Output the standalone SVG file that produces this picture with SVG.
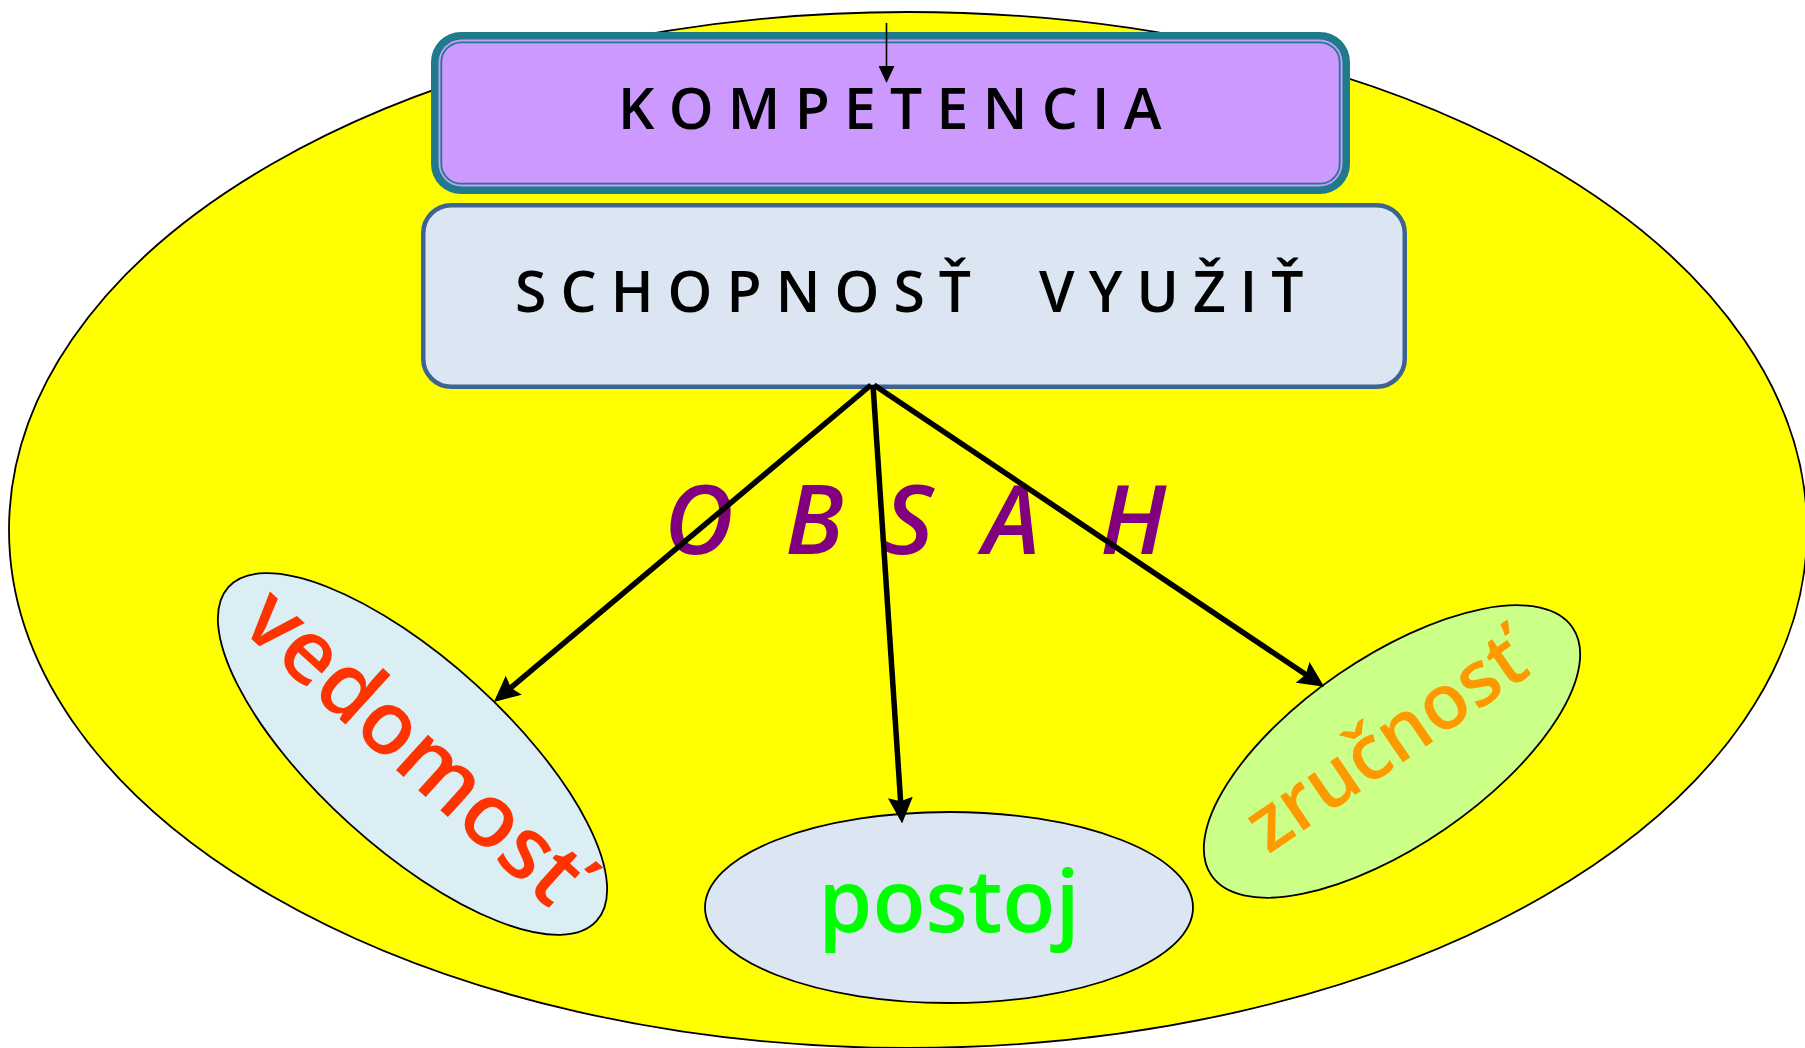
<svg xmlns="http://www.w3.org/2000/svg" width="1805" height="1048" viewBox="0 0 1805 1048">
<defs>
<style>
.box-text{font-family:"Open Sans","Liberation Sans",sans-serif;font-weight:600;font-size:57px;fill:#000}
.conn{stroke:#000;stroke-width:5.5;fill:none}
.lbl{font-family:"Open Sans","Liberation Sans",sans-serif;text-anchor:middle}
.oval{stroke:#000;stroke-width:1.8}
</style>
<marker id="ah" markerUnits="userSpaceOnUse" markerWidth="26" markerHeight="26" viewBox="0 0 24 24" refX="6" refY="12" orient="auto">
<path d="M0,0.5 L24,12 L0,23.5 L3.5,12 Z" fill="#000"/>
</marker>
<marker id="ahs" markerUnits="userSpaceOnUse" markerWidth="17" markerHeight="16" viewBox="0 0 17 16" refX="5" refY="8" orient="auto">
<path d="M0,0 L17,8 L0,16 Z" fill="#000"/>
</marker>
</defs>
<rect width="1805" height="1048" fill="#fff"/>
<g id="background">
<ellipse cx="908" cy="530" rx="899" ry="518" fill="#FFFF00" stroke="#000" stroke-width="1.8"/>
</g>
<g id="kompetencia">
<rect x="431" y="32" width="919" height="162" rx="30" fill="#1F7A8C"/>
<rect x="438.5" y="39.5" width="904" height="147" rx="23" fill="#CC99FF"/>
<rect x="441.3" y="42.3" width="898.4" height="141.4" rx="20" fill="none" stroke="#1F7A8C" stroke-width="1.8"/>
<text class="box-text" x="618" y="128.5" letter-spacing="14.3">KOMPETENCIA</text>
</g>
<g id="schopnost">
<rect x="423.25" y="205.25" width="981.5" height="181.5" rx="28" fill="#DCE6F2" stroke="#3D6491" stroke-width="4.5"/>
<text class="box-text" x="515" y="311.5" letter-spacing="14.1">SCHOPNOSŤ <tspan dx="25">VYUŽIŤ</tspan></text>
</g>
<g id="vedomost" transform="translate(412.5,754) rotate(42.2)">
<ellipse cx="0" cy="0" rx="248.5" ry="94" fill="#DAEEF3" class="oval"/>
<text class="lbl" x="-4" y="23" font-size="88" font-weight="600" fill="#FF3300">vedomosť</text>
</g>
<g id="postoj">
<ellipse cx="949" cy="907.5" rx="244" ry="95.5" fill="#DCE6F2" class="oval"/>
<text class="lbl" x="949" y="931.5" font-size="87" font-weight="600" fill="#00FF00">postoj</text>
</g>
<g id="zrucnost" transform="translate(1392,751.5) rotate(-34.5)">
<ellipse cx="0" cy="0" rx="219" ry="94" fill="#CCFF88" class="oval"/>
<text class="lbl" x="0" y="15" font-size="77" font-weight="600" fill="#FF9900">zručnosť</text>
</g>
<g id="obsah">
<text x="664 720 785 840 884 940 983 1050 1100" y="554" font-family="'Open Sans','Liberation Sans',sans-serif" font-style="italic" font-weight="600" font-size="96" fill="#800080">O B S A H</text>
</g>
<g id="connectors">
<line class="conn" x1="871" y1="385" x2="508.8" y2="689.4" marker-end="url(#ah)"/>
<line class="conn" x1="873" y1="385" x2="900.8" y2="804" marker-end="url(#ah)"/>
<line class="conn" x1="874" y1="385" x2="1308" y2="676" marker-end="url(#ah)"/>
<line x1="886.5" y1="23" x2="886.5" y2="71" stroke="#000" stroke-width="1.6" marker-end="url(#ahs)"/>
</g>
</svg>
